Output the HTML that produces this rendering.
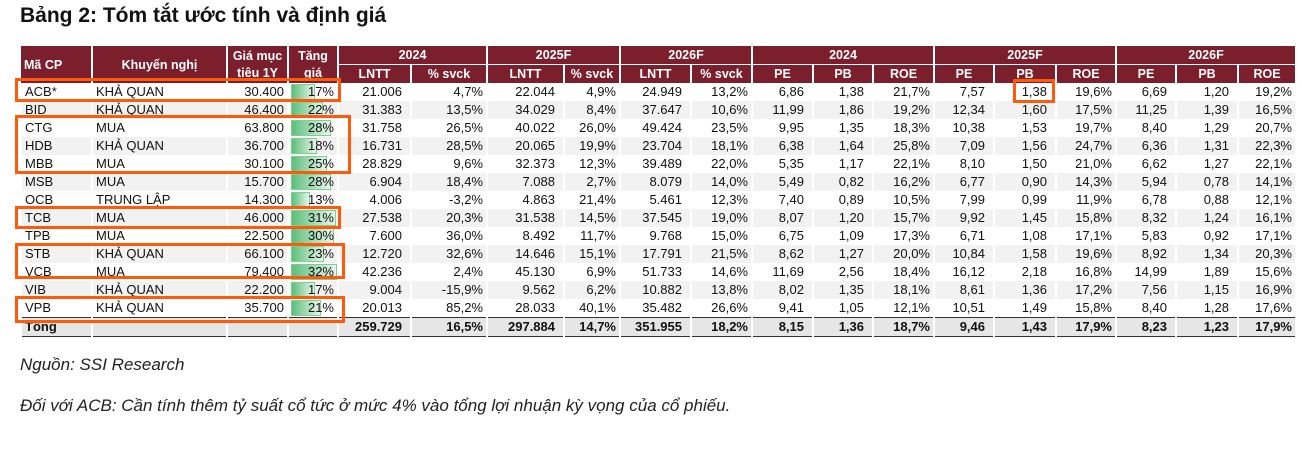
<!DOCTYPE html><html><head><meta charset="utf-8"><style>
body{margin:0;width:1302px;height:451px;background:#fff;font-family:"Liberation Sans",sans-serif;position:relative;overflow:hidden}
h1{position:absolute;left:20px;top:4px;margin:0;font-size:21px;font-weight:bold;color:#111}
table{position:absolute;left:20px;top:46px;border-collapse:collapse;table-layout:fixed;font-size:13px;color:#111}
td,th{padding:0 3px;height:18px;line-height:18px;white-space:nowrap;overflow:hidden;border-left:2px solid #fff}
th{background:#7b1f2c;color:#fff;font-weight:bold;text-align:center;font-size:12.5px}
tr.h2 th{border-top:1px solid #fff}
td{text-align:right}
td.l{text-align:left}
td.lt{padding-right:8px}
tbody tr:nth-child(even) td{background:#f2f2f2}
tr.tot td{background:#e6e6e6!important;font-weight:bold;border-top:1px solid #333;border-bottom:1px solid #333}
.bar{position:relative}
.bar i{position:absolute;left:2px;top:1px;height:16px;background:linear-gradient(90deg,#5cbf7a,#e8f5ec);border:1px solid #7fcf95;box-sizing:border-box}
.bar span{position:relative}
.box{position:absolute;border:3px solid #ff5a0a;box-sizing:border-box}
.note{position:absolute;left:20px;font-style:italic;font-size:17px;color:#222}
</style></head><body>
<h1>Bảng 2: Tóm tắt ước tính và định giá</h1>
<table>
<colgroup><col style="width:71px"><col style="width:135px"><col style="width:61px"><col style="width:50px"><col style="width:73px"><col style="width:76px"><col style="width:77px"><col style="width:56px"><col style="width:71px"><col style="width:61px"><col style="width:61px"><col style="width:60px"><col style="width:61px"><col style="width:60px"><col style="width:62px"><col style="width:60px"><col style="width:60px"><col style="width:62px"><col style="width:57px"></colgroup>
<thead>
<tr><th rowspan="2" style="text-align:left;border-left:none">Mã CP</th><th rowspan="2">Khuyến nghị</th><th rowspan="2" style="line-height:17px">Giá mục<br>tiêu 1Y</th><th rowspan="2" style="line-height:17px">Tăng<br>giá</th><th colspan="2">2024</th><th colspan="2">2025F</th><th colspan="2">2026F</th><th colspan="3">2024</th><th colspan="3">2025F</th><th colspan="3">2026F</th></tr>
<tr class="h2"><th>LNTT</th><th>% svck</th><th>LNTT</th><th>% svck</th><th>LNTT</th><th>% svck</th><th>PE</th><th>PB</th><th>ROE</th><th>PE</th><th>PB</th><th>ROE</th><th>PE</th><th>PB</th><th>ROE</th></tr>
</thead>
<tbody>
<tr><td class="l">ACB*</td><td class="l">KHẢ QUAN</td><td>30.400</td><td class="bar"><i style="width:24px"></i><span>17%</span></td><td class="lt">21.006</td><td>4,7%</td><td class="lt">22.044</td><td>4,9%</td><td class="lt">24.949</td><td>13,2%</td><td class="lt">6,86</td><td class="lt">1,38</td><td>21,7%</td><td class="lt">7,57</td><td class="lt">1,38</td><td>19,6%</td><td class="lt">6,69</td><td class="lt">1,20</td><td>19,2%</td></tr>
<tr><td class="l">BID</td><td class="l">KHẢ QUAN</td><td>46.400</td><td class="bar"><i style="width:32px"></i><span>22%</span></td><td class="lt">31.383</td><td>13,5%</td><td class="lt">34.029</td><td>8,4%</td><td class="lt">37.647</td><td>10,6%</td><td class="lt">11,99</td><td class="lt">1,86</td><td>19,2%</td><td class="lt">12,34</td><td class="lt">1,60</td><td>17,5%</td><td class="lt">11,25</td><td class="lt">1,39</td><td>16,5%</td></tr>
<tr><td class="l">CTG</td><td class="l">MUA</td><td>63.800</td><td class="bar"><i style="width:40px"></i><span>28%</span></td><td class="lt">31.758</td><td>26,5%</td><td class="lt">40.022</td><td>26,0%</td><td class="lt">49.424</td><td>23,5%</td><td class="lt">9,95</td><td class="lt">1,35</td><td>18,3%</td><td class="lt">10,38</td><td class="lt">1,53</td><td>19,7%</td><td class="lt">8,40</td><td class="lt">1,29</td><td>20,7%</td></tr>
<tr><td class="l">HDB</td><td class="l">KHẢ QUAN</td><td>36.700</td><td class="bar"><i style="width:26px"></i><span>18%</span></td><td class="lt">16.731</td><td>28,5%</td><td class="lt">20.065</td><td>19,9%</td><td class="lt">23.704</td><td>18,1%</td><td class="lt">6,38</td><td class="lt">1,64</td><td>25,8%</td><td class="lt">7,09</td><td class="lt">1,56</td><td>24,7%</td><td class="lt">6,36</td><td class="lt">1,31</td><td>22,3%</td></tr>
<tr><td class="l">MBB</td><td class="l">MUA</td><td>30.100</td><td class="bar"><i style="width:36px"></i><span>25%</span></td><td class="lt">28.829</td><td>9,6%</td><td class="lt">32.373</td><td>12,3%</td><td class="lt">39.489</td><td>22,0%</td><td class="lt">5,35</td><td class="lt">1,17</td><td>22,1%</td><td class="lt">8,10</td><td class="lt">1,50</td><td>21,0%</td><td class="lt">6,62</td><td class="lt">1,27</td><td>22,1%</td></tr>
<tr><td class="l">MSB</td><td class="l">MUA</td><td>15.700</td><td class="bar"><i style="width:40px"></i><span>28%</span></td><td class="lt">6.904</td><td>18,4%</td><td class="lt">7.088</td><td>2,7%</td><td class="lt">8.079</td><td>14,0%</td><td class="lt">5,49</td><td class="lt">0,82</td><td>16,2%</td><td class="lt">6,77</td><td class="lt">0,90</td><td>14,3%</td><td class="lt">5,94</td><td class="lt">0,78</td><td>14,1%</td></tr>
<tr><td class="l">OCB</td><td class="l">TRUNG LẬP</td><td>14.300</td><td class="bar"><i style="width:19px"></i><span>13%</span></td><td class="lt">4.006</td><td>-3,2%</td><td class="lt">4.863</td><td>21,4%</td><td class="lt">5.461</td><td>12,3%</td><td class="lt">7,40</td><td class="lt">0,89</td><td>10,5%</td><td class="lt">7,99</td><td class="lt">0,99</td><td>11,9%</td><td class="lt">6,78</td><td class="lt">0,88</td><td>12,1%</td></tr>
<tr><td class="l">TCB</td><td class="l">MUA</td><td>46.000</td><td class="bar"><i style="width:45px"></i><span>31%</span></td><td class="lt">27.538</td><td>20,3%</td><td class="lt">31.538</td><td>14,5%</td><td class="lt">37.545</td><td>19,0%</td><td class="lt">8,07</td><td class="lt">1,20</td><td>15,7%</td><td class="lt">9,92</td><td class="lt">1,45</td><td>15,8%</td><td class="lt">8,32</td><td class="lt">1,24</td><td>16,1%</td></tr>
<tr><td class="l">TPB</td><td class="l">MUA</td><td>22.500</td><td class="bar"><i style="width:43px"></i><span>30%</span></td><td class="lt">7.600</td><td>36,0%</td><td class="lt">8.492</td><td>11,7%</td><td class="lt">9.768</td><td>15,0%</td><td class="lt">6,75</td><td class="lt">1,09</td><td>17,3%</td><td class="lt">6,71</td><td class="lt">1,08</td><td>17,1%</td><td class="lt">5,83</td><td class="lt">0,92</td><td>17,1%</td></tr>
<tr><td class="l">STB</td><td class="l">KHẢ QUAN</td><td>66.100</td><td class="bar"><i style="width:33px"></i><span>23%</span></td><td class="lt">12.720</td><td>32,6%</td><td class="lt">14.646</td><td>15,1%</td><td class="lt">17.791</td><td>21,5%</td><td class="lt">8,62</td><td class="lt">1,27</td><td>20,0%</td><td class="lt">10,84</td><td class="lt">1,58</td><td>19,6%</td><td class="lt">8,92</td><td class="lt">1,34</td><td>20,3%</td></tr>
<tr><td class="l">VCB</td><td class="l">MUA</td><td>79.400</td><td class="bar"><i style="width:46px"></i><span>32%</span></td><td class="lt">42.236</td><td>2,4%</td><td class="lt">45.130</td><td>6,9%</td><td class="lt">51.733</td><td>14,6%</td><td class="lt">11,69</td><td class="lt">2,56</td><td>18,4%</td><td class="lt">16,12</td><td class="lt">2,18</td><td>16,8%</td><td class="lt">14,99</td><td class="lt">1,89</td><td>15,6%</td></tr>
<tr><td class="l">VIB</td><td class="l">KHẢ QUAN</td><td>22.200</td><td class="bar"><i style="width:24px"></i><span>17%</span></td><td class="lt">9.004</td><td>-15,9%</td><td class="lt">9.562</td><td>6,2%</td><td class="lt">10.882</td><td>13,8%</td><td class="lt">8,02</td><td class="lt">1,35</td><td>18,1%</td><td class="lt">8,61</td><td class="lt">1,36</td><td>17,2%</td><td class="lt">7,56</td><td class="lt">1,15</td><td>16,9%</td></tr>
<tr><td class="l">VPB</td><td class="l">KHẢ QUAN</td><td>35.700</td><td class="bar"><i style="width:30px"></i><span>21%</span></td><td class="lt">20.013</td><td>85,2%</td><td class="lt">28.033</td><td>40,1%</td><td class="lt">35.482</td><td>26,6%</td><td class="lt">9,41</td><td class="lt">1,05</td><td>12,1%</td><td class="lt">10,51</td><td class="lt">1,49</td><td>15,8%</td><td class="lt">8,40</td><td class="lt">1,28</td><td>17,6%</td></tr>
<tr class="tot"><td class="l">Tổng</td><td></td><td></td><td></td><td class="lt">259.729</td><td>16,5%</td><td class="lt">297.884</td><td>14,7%</td><td class="lt">351.955</td><td>18,2%</td><td class="lt">8,15</td><td class="lt">1,36</td><td>18,7%</td><td class="lt">9,46</td><td class="lt">1,43</td><td>17,9%</td><td class="lt">8,23</td><td class="lt">1,23</td><td>17,9%</td></tr>
</tbody></table>
<div class="box" style="left:15px;top:78px;width:326px;height:24px"></div>
<div class="box" style="left:15px;top:115px;width:336px;height:59px"></div>
<div class="box" style="left:15px;top:206px;width:326px;height:23px"></div>
<div class="box" style="left:15px;top:243px;width:330px;height:36px"></div>
<div class="box" style="left:15px;top:296px;width:330px;height:27px"></div>
<div class="box" style="left:1013px;top:79px;width:42px;height:24px"></div>
<div class="note" style="top:355px">Nguồn: SSI Research</div>
<div class="note" style="top:396px">Đối với ACB: Cần tính thêm tỷ suất cổ tức ở mức 4% vào tổng lợi nhuận kỳ vọng của cổ phiếu.</div>
</body></html>
